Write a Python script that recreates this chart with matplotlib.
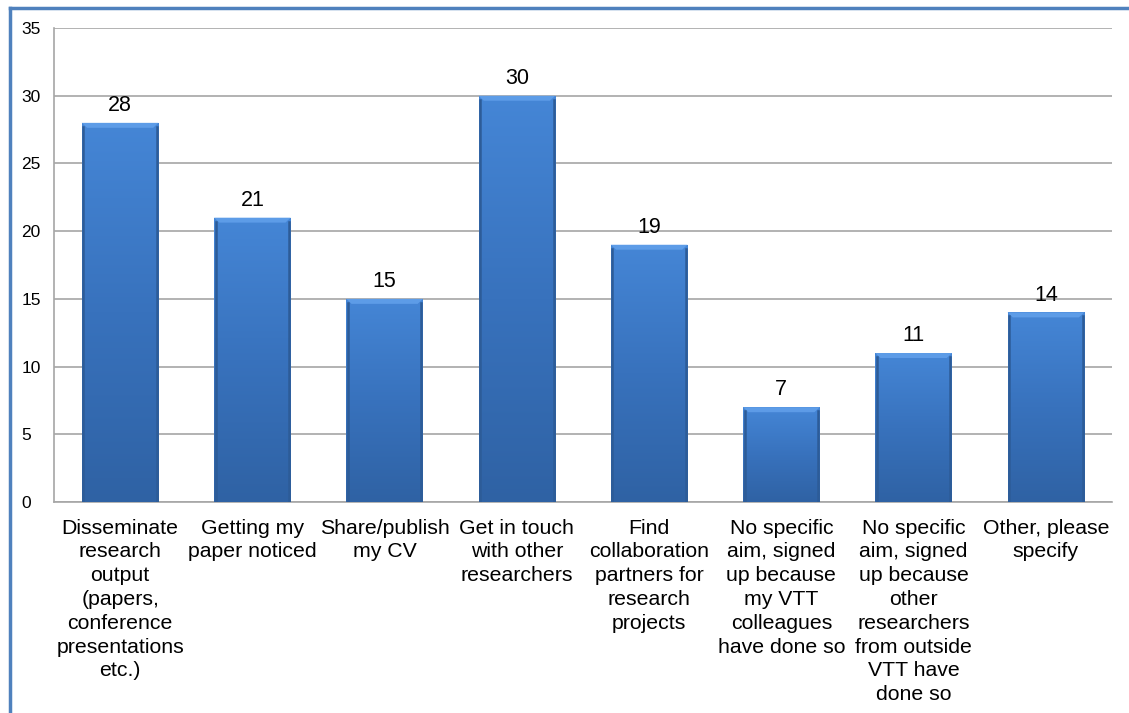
import matplotlib.pyplot as plt
import numpy as np
from matplotlib import colors
from matplotlib.lines import Line2D
from matplotlib.patches import Polygon

categories = [
    "Disseminate\nresearch\noutput\n(papers,\nconference\npresentations\netc.)",
    "Getting my\npaper noticed",
    "Share/publish\nmy CV",
    "Get in touch\nwith other\nresearchers",
    "Find\ncollaboration\npartners for\nresearch\nprojects",
    "No specific\naim, signed\nup because\nmy VTT\ncolleagues\nhave done so",
    "No specific\naim, signed\nup because\nother\nresearchers\nfrom outside\nVTT have\ndone so",
    "Other, please\nspecify",
]
counts = [28, 21, 15, 30, 19, 7, 11, 14]
yticks = [0, 5, 10, 15, 20, 25, 30, 35]

plt.rcParams['font.family'] = ['Liberation Sans', 'DejaVu Sans']

fig = plt.figure(figsize=(11.29, 7.13), dpi=100)
ax = fig.add_axes([54 / 1129, 1 - 502 / 713, (1112 - 54) / 1129, (502 - 28) / 713])

x = np.arange(len(counts))
bars = ax.bar(x, counts, width=0.58, color='none', edgecolor='none', zorder=3)

# vertical gradient: lighter at the top, darker at the base
cmap = colors.LinearSegmentedColormap.from_list('barblue', ['#2f62a4', '#3872bd', '#4586d6'])
grad = np.linspace(0, 1, 256).reshape(-1, 1)
px = 35 / 474  # data units per pixel in y
for b in bars:
    x0, w, h = b.get_x(), b.get_width(), b.get_height()
    im = ax.imshow(grad, cmap=cmap, origin='lower', aspect='auto',
                   extent=[x0, x0 + w, 0, h], zorder=3)
    im.set_clip_path(b)
    # bevel: lighter trapezoid on top, darker sides
    bev = 0.04
    ax.add_patch(Polygon([[x0, h], [x0 + w, h], [x0 + w - bev, h - 5 * px], [x0 + bev, h - 5 * px]],
                         closed=True, facecolor='#64a2ec', edgecolor='none', alpha=0.8, zorder=4))
    ax.plot([x0 + 0.012, x0 + 0.012], [0, h - 4 * px], color='#2d5c98', lw=1.8, zorder=4)
    ax.plot([x0 + w - 0.012, x0 + w - 0.012], [0, h - 4 * px], color='#2d5c98', lw=1.8, zorder=4)
    ax.text(x0 + w / 2, h + 0.5, str(int(h)), ha='center', va='bottom',
            fontsize=15.5, color='black')

ax.set_xlim(-0.5, len(counts) - 0.5)
ax.set_ylim(0, 35)
ax.set_yticks(yticks, labels=[str(v) for v in yticks], fontsize=12.5, ha='left')
ax.set_xticks(x)
ax.set_xticklabels(categories, fontsize=15.3, linespacing=1.32, va='top')
ax.tick_params(axis='both', length=0)
ax.tick_params(axis='x', pad=12)
ax.tick_params(axis='y', pad=23.5)

ax.grid(axis='y', color='#a6a6a6', lw=1.2, zorder=0)
ax.set_axisbelow(True)
for side in ['top', 'right']:
    ax.spines[side].set_visible(False)
ax.spines['left'].set_color('#a6a6a6')
ax.spines['bottom'].set_color('#a6a6a6')
ax.spines['left'].set_linewidth(1.2)
ax.spines['bottom'].set_linewidth(1.2)

# outer chart frame
fig.add_artist(Line2D([10 / 1129, 10 / 1129], [0, 1 - 8 / 713], transform=fig.transFigure,
                      color='#4f81bd', lw=2.5))
fig.add_artist(Line2D([10 / 1129, 1], [1 - 8 / 713, 1 - 8 / 713], transform=fig.transFigure,
                      color='#4f81bd', lw=2.5))

fig.savefig('out.png', dpi=100)
